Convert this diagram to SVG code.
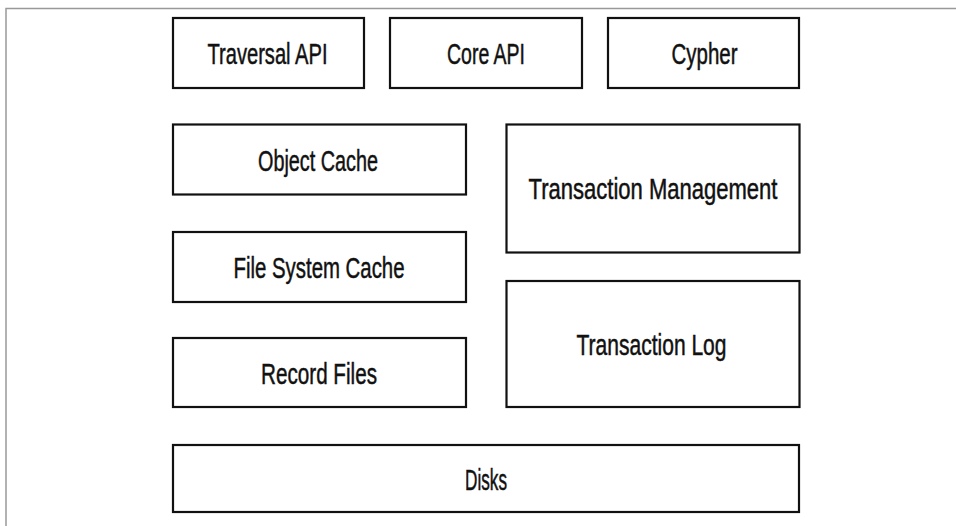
<svg xmlns="http://www.w3.org/2000/svg" width="956" height="526" viewBox="0 0 956 526">
  <style>
    .box { fill: #ffffff; stroke: #111111; stroke-width: 2.2; }
    .lbl { font-family: "Liberation Sans", Arial, sans-serif; font-size: 30px; fill: #111111; stroke: #111111; stroke-width: 0.5; text-anchor: middle; }
    .frame { fill: none; stroke: #999999; stroke-width: 1.5; }
  </style>
  <rect width="956" height="526" fill="#ffffff"/>
  <path class="frame" d="M6,526 V8.5 H956"/>
  <g id="traversal-api">
    <rect class="box" x="173" y="18" width="191" height="70"/>
    <text class="lbl" x="267.5" y="63.5" textLength="120" lengthAdjust="spacingAndGlyphs">Traversal API</text>
  </g>
  <g id="core-api">
    <rect class="box" x="390" y="18" width="192" height="70"/>
    <text class="lbl" x="486" y="63.5" textLength="78" lengthAdjust="spacingAndGlyphs">Core API</text>
  </g>
  <g id="cypher">
    <rect class="box" x="608" y="18" width="191" height="70"/>
    <text class="lbl" x="704.5" y="63.5" textLength="66" lengthAdjust="spacingAndGlyphs">Cypher</text>
  </g>
  <g id="object-cache">
    <rect class="box" x="173" y="124.5" width="293" height="70"/>
    <text class="lbl" x="318" y="171" textLength="120" lengthAdjust="spacingAndGlyphs">Object Cache</text>
  </g>
  <g id="file-system-cache">
    <rect class="box" x="173" y="232" width="293" height="70"/>
    <text class="lbl" x="319" y="278" textLength="171" lengthAdjust="spacingAndGlyphs">File System Cache</text>
  </g>
  <g id="record-files">
    <rect class="box" x="173" y="338" width="293" height="69"/>
    <text class="lbl" x="319" y="384" textLength="116" lengthAdjust="spacingAndGlyphs">Record Files</text>
  </g>
  <g id="transaction-management">
    <rect class="box" x="506.5" y="124.5" width="293" height="128"/>
    <text class="lbl" x="653" y="199" textLength="249" lengthAdjust="spacingAndGlyphs">Transaction Management</text>
  </g>
  <g id="transaction-log">
    <rect class="box" x="506.5" y="281" width="293" height="126"/>
    <text class="lbl" x="651.5" y="354.5" textLength="150" lengthAdjust="spacingAndGlyphs">Transaction Log</text>
  </g>
  <g id="disks">
    <rect class="box" x="173" y="445" width="626" height="67"/>
    <text class="lbl" x="486" y="489.5" textLength="42" lengthAdjust="spacingAndGlyphs">Disks</text>
  </g>
  <g id="connectors"></g>
</svg>
